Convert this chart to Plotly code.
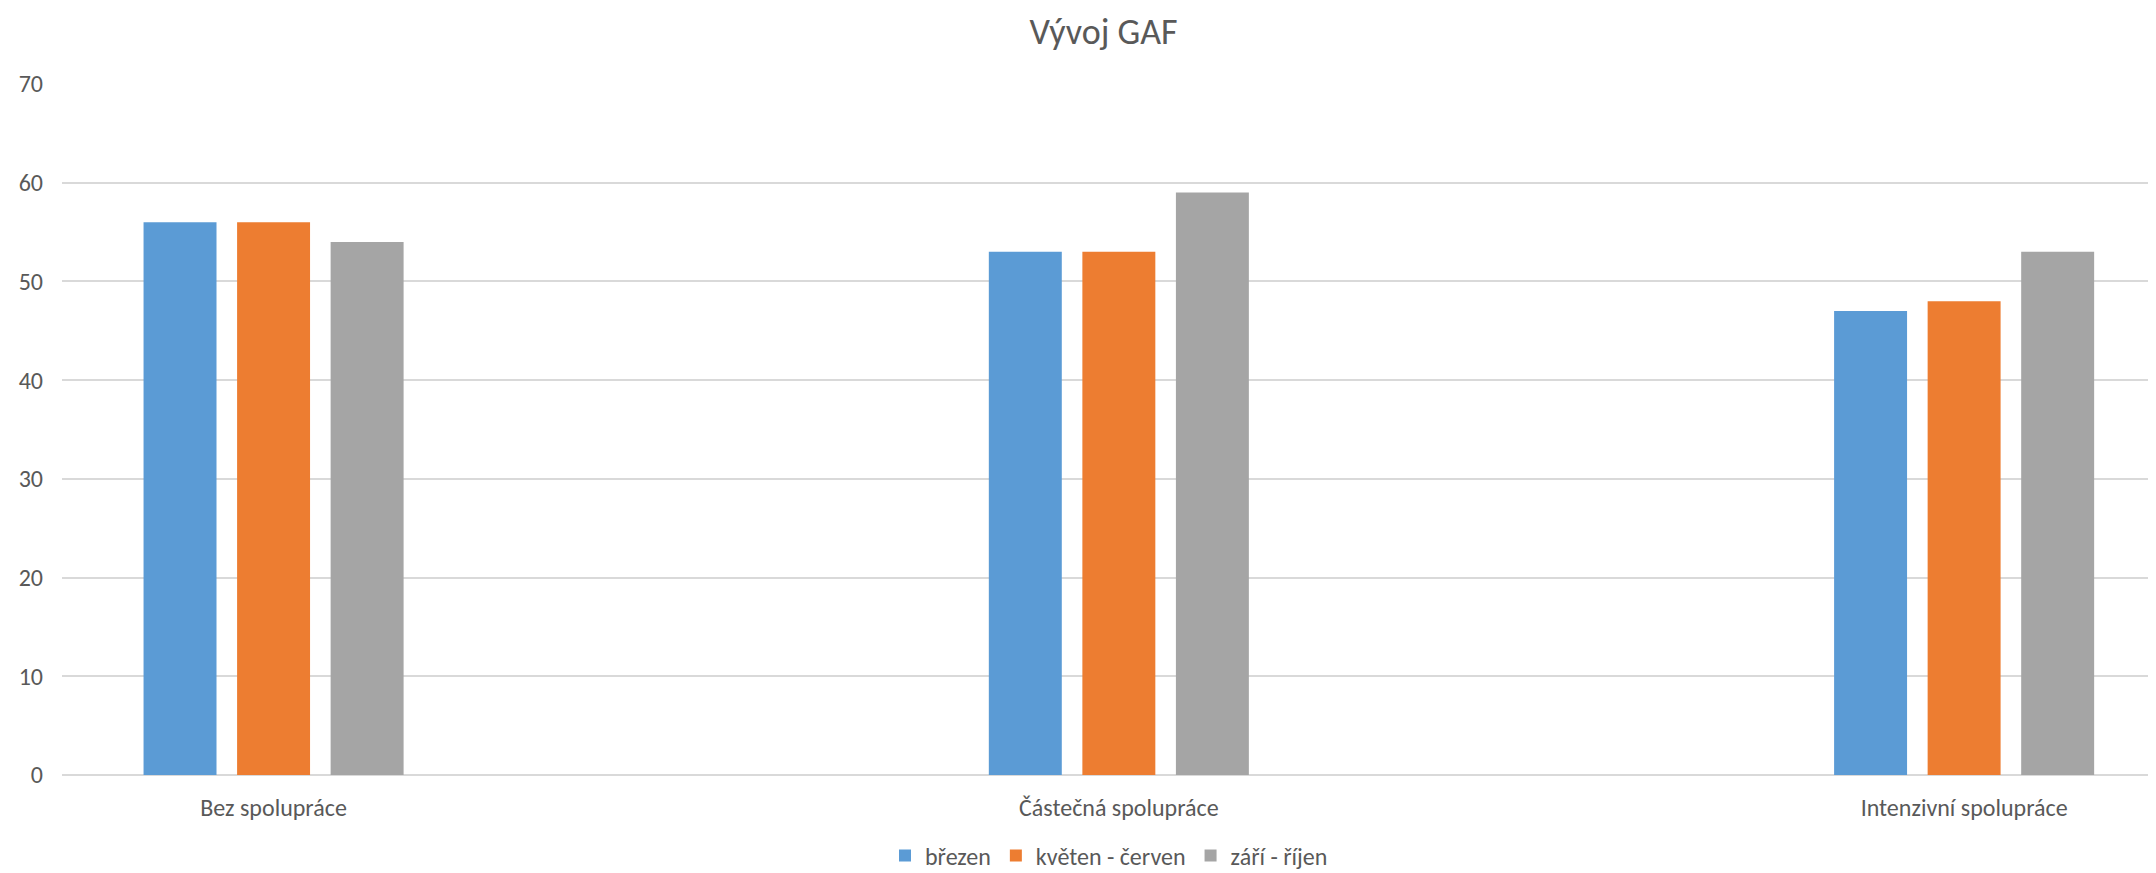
import plotly.graph_objects as go

categories = ["Bez spolupráce", "Částečná spolupráce", "Intenzivní spolupráce"]
series_names = ["březen", "květen - červen", "září - říjen"]
brezen = [56, 53, 47]
kveten_cerven = [56, 53, 48]
zari_rijen = [54, 59, 53]
colors = ["#5B9BD5", "#ED7D31", "#A5A5A5"]

FONT = "Calibri, Lato, 'Noto Sans', sans-serif"
W, H = 2148, 865

fig = go.Figure()
for name, vals, col in zip(series_names, [brezen, kveten_cerven, zari_rijen], colors):
    fig.add_trace(go.Bar(x=categories, y=vals, name=name, marker=dict(color=col, line=dict(width=0))))

fig.update_layout(
    width=W, height=H,
    margin=dict(l=54, r=0, t=76, b=98),
    paper_bgcolor="white", plot_bgcolor="white",
    font=dict(family=FONT, color="#595959", size=24),
    title=dict(text="Vývoj GAF", x=0.51, xanchor="center", y=1 - 23/H, yanchor="middle",
               font=dict(family=FONT, size=36, color="#595959")),
    barmode="group", bargap=0.668, bargroupgap=0.22,
    showlegend=True,
    legend=dict(orientation="h", x=0.5, xanchor="center", xref="paper",
                y=1 - 848/H, yref="container", yanchor="middle",
                font=dict(family=FONT, size=24, color="#595959"), itemwidth=30,
                traceorder="normal"),
    xaxis=dict(range=[-0.2503, 2.227], showgrid=False, showline=False, ticks="",
               ticklabelstandoff=16, tickfont=dict(size=24, color="#595959")),
    yaxis=dict(range=[0, 70], dtick=10, showgrid=True, gridcolor="#D9D9D9", gridwidth=1.5,
               zeroline=True, zerolinecolor="#D9D9D9", zerolinewidth=1.5,
               showline=False, ticks="", ticklabelstandoff=18,
               tickfont=dict(size=24, color="#595959")),
)

fig.write_html("out.html")
